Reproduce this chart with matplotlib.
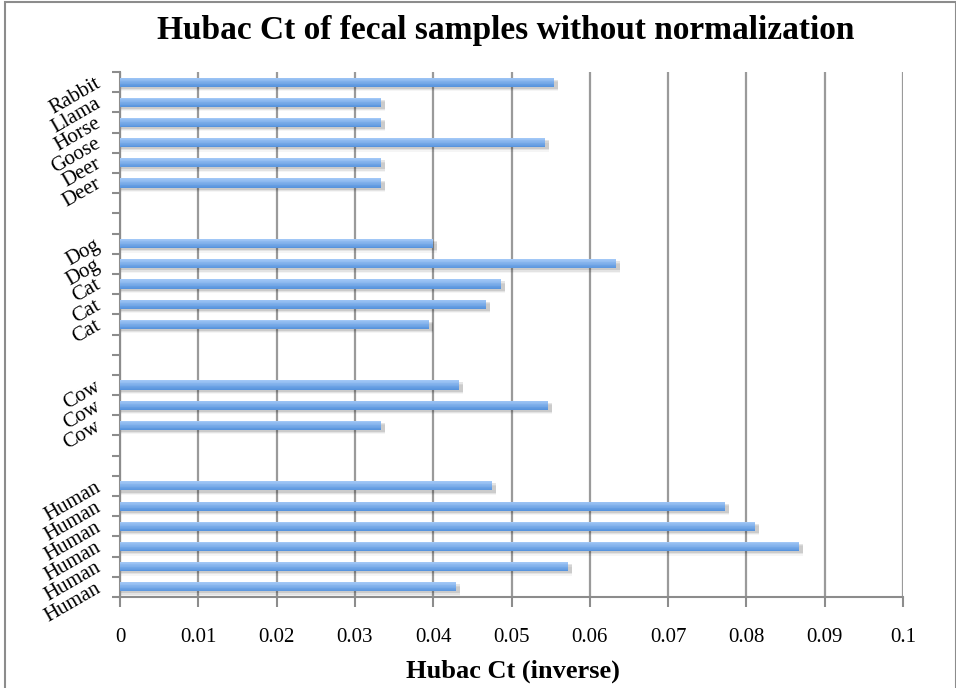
import matplotlib
matplotlib.use("Agg")
import matplotlib.pyplot as plt
from matplotlib.patches import Rectangle
from matplotlib.colors import to_rgb
import numpy as np

# Categories from bottom to top (blank entries are empty category slots)
categories = ["Human", "Human", "Human", "Human", "Human", "Human", "", "",
              "Cow", "Cow", "Cow", "", "",
              "Cat", "Cat", "Cat", "Dog", "Dog", "", "",
              "Deer", "Deer", "Goose", "Horse", "Llama", "Rabbit"]
values = [0.0429, 0.0572, 0.0867, 0.0811, 0.0773, 0.0475, np.nan, np.nan,
          0.0333, 0.0547, 0.0433, np.nan, np.nan,
          0.0395, 0.0468, 0.0487, 0.0634, 0.0400, np.nan, np.nan,
          0.0333, 0.0333, 0.0543, 0.0333, 0.0333, 0.0554]
xticks = [0, 0.01, 0.02, 0.03, 0.04, 0.05, 0.06, 0.07, 0.08, 0.09, 0.1]
xtick_labels = ["0", "0.01", "0.02", "0.03", "0.04", "0.05", "0.06", "0.07", "0.08", "0.09", "0.1"]
title = "Hubac Ct of fecal samples without normalization"
xlabel = "Hubac Ct (inverse)"

plt.rcParams['font.family'] = ['Liberation Serif', 'DejaVu Serif']

fig = plt.figure(figsize=(9.56, 6.88), dpi=100)
ax = fig.add_axes([120/956, (688-597)/688, 783/956, 525/688])

# chart area border
fig.patches.append(Rectangle((5/956, -0.01), 1 - 5/956 - 0.0005, 1.0075, transform=fig.transFigure,
                             fill=False, edgecolor='#8c8c8c', linewidth=1.5))

y = np.arange(len(categories))
vals = np.array(values, dtype=float)
mask = ~np.isnan(vals)
h = 0.45

# soft shadow below each bar
for off, a in [(0.10, 0.10), (0.16, 0.07), (0.22, 0.04)]:
    ax.barh(y[mask] - off, vals[mask] + 0.0005, height=h, color='#000000', alpha=a,
            zorder=2, linewidth=0)
# main bar with vertical gradient (dark bottom -> light top)
n = 12
c_bot = np.array(to_rgb('#5592dc'))
c_top = np.array(to_rgb('#a4c9f7'))
for i in range(n):
    t = (i + 0.5) / n
    col = c_bot + (c_top - c_bot) * t
    ax.barh(y[mask] - h / 2 + h * i / n, vals[mask], height=h / n * 1.05, align='edge',
            color=col, zorder=3, linewidth=0)

ax.set_xlim(0, 0.1)
ax.set_ylim(-0.5, len(categories) - 0.5)
ax.set_xticks(xticks)
ax.set_xticklabels(xtick_labels, fontsize=15)
ax.set_yticks(y)
ax.set_yticklabels(categories, fontsize=15, rotation=30, ha='right', va='center',
                   rotation_mode='anchor')
ax.set_yticks(np.arange(len(categories) + 1) - 0.5, minor=True)
ax.tick_params(axis='y', which='major', length=0, pad=15)
ax.tick_params(axis='y', which='minor', length=6, width=1.5, color='#8c8c8c', direction='out')
ax.tick_params(axis='x', which='major', length=7, width=1.5, color='#8c8c8c', direction='out', pad=15)

ax.grid(axis='x', color='#9a9a9a', linewidth=1.6, zorder=1)
ax.set_axisbelow(True)
for s in ['top', 'right']:
    ax.spines[s].set_visible(False)
for s in ['left', 'bottom']:
    ax.spines[s].set_color('#8c8c8c')
    ax.spines[s].set_linewidth(1.5)

fig.text(506/956, 1 - 31/688, title, ha='center', va='center', fontsize=24, fontweight='bold')
fig.text(513/956, 1 - 671/688, xlabel, ha='center', va='center', fontsize=19, fontweight='bold')

fig.savefig("out.png", dpi=100)
